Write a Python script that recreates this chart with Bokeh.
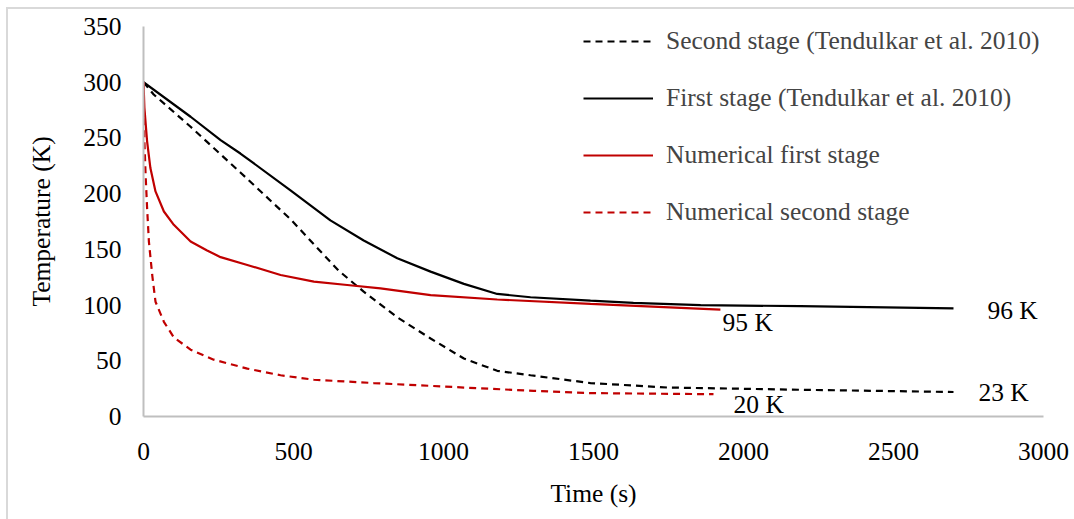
from bokeh.plotting import figure
from bokeh.models import FixedTicker, Legend, LegendItem, ColumnDataSource
from bokeh.core.properties import value
from bokeh.embed import file_html
from bokeh.resources import INLINE

# ---- data ----
t_second_ref = [0, 34, 157, 323, 490, 650, 734, 846, 957, 1068, 1179, 1290, 1490, 1747, 2190, 2700]
T_second_ref = [300, 289, 260, 219, 177, 131, 112, 89, 70, 52, 41, 37, 30, 26, 24, 22]

t_first_ref = [0, 157, 257, 323, 490, 623, 734, 846, 957, 1068, 1179, 1290, 1490, 1633, 1857, 2190, 2700]
T_first_ref = [300, 269, 248, 236, 203, 176, 158, 142, 130, 119, 110, 107, 104, 102, 100, 99, 97]

t_first_num = [0, 3, 12, 23, 40, 68, 101, 157, 212, 257, 346, 457, 568, 679, 790, 957, 1179, 1490, 1923]
T_first_num = [300, 277, 247, 223, 202, 184, 172, 157, 149, 143, 136, 127, 121, 118, 115, 109, 105, 101, 96]

t_second_num = [0, 3, 7, 12, 18, 29, 40, 68, 101, 157, 234, 346, 457, 568, 768, 1068, 1300, 1490, 1900]
T_second_num = [300, 247, 217, 187, 157, 127, 103, 85, 71, 60, 51, 43, 37, 33, 30, 26, 23, 21, 20]

labels = ["Second stage (Tendulkar et al. 2010)", "First stage (Tendulkar et al. 2010)",
          "Numerical first stage", "Numerical second stage"]

ann_text = ["95 K", "96 K", "23 K", "20 K"]
ann_x = [1930, 2813, 2783, 1967]
ann_y = [84, 95, 21.6, 10.8]

x_ticks = [0, 500, 1000, 1500, 2000, 2500, 3000]
y_ticks = [0, 50, 100, 150, 200, 250, 300, 350]

FONT = "Liberation Serif"
RED = "#c00000"
FS = "25.5px"

p = figure(width=1074, height=519, output_backend="svg", toolbar_location=None,
           x_range=(0, 3000), y_range=(0, 350),
           min_border_left=143, min_border_right=31, min_border_top=26, min_border_bottom=103)
p.outline_line_color = None
p.grid.visible = False
p.border_fill_alpha = 0
p.background_fill_alpha = 0
p.styles = {
    "background": "linear-gradient(#d9d9d9, #d9d9d9) 6px 7px / 2px 100% no-repeat, "
                  "linear-gradient(#d9d9d9, #d9d9d9) 6px 7px / 100% 2px no-repeat, #ffffff"
}

for ax in (p.xaxis[0], p.yaxis[0]):
    ax.axis_line_color = "#bfbfbf"
    ax.axis_line_width = 2
    ax.major_tick_line_color = None
    ax.minor_tick_line_color = None
    ax.major_tick_out = 0
    ax.major_tick_in = 0
    ax.major_label_text_font = FONT
    ax.major_label_text_font_size = FS
    ax.major_label_text_color = "#000000"
    ax.axis_label_text_font = FONT
    ax.axis_label_text_font_size = FS
    ax.axis_label_text_font_style = "normal"
    ax.axis_label_text_color = "#000000"

p.xaxis[0].ticker = FixedTicker(ticks=x_ticks)
p.yaxis[0].ticker = FixedTicker(ticks=y_ticks)
p.xaxis[0].axis_label = "Time (s)"
p.yaxis[0].axis_label = "Temperature (K)"
p.xaxis[0].major_label_standoff = 26
p.xaxis[0].axis_label_standoff = 16
p.yaxis[0].major_label_standoff = 22
p.yaxis[0].axis_label_standoff = 24

r1 = p.line(t_second_ref, T_second_ref, line_color="black", line_width=2.2, line_dash="7 5")
r2 = p.line(t_first_ref, T_first_ref, line_color="black", line_width=2.2)
r3 = p.line(t_first_num, T_first_num, line_color=RED, line_width=2.2)
r4 = p.line(t_second_num, T_second_num, line_color=RED, line_width=2.2, line_dash="7 5")

src = ColumnDataSource(dict(x=ann_x, y=ann_y, t=ann_text))
p.text(x="x", y="y", text="t", source=src, text_font=value(FONT), text_font_size=FS,
       text_baseline="middle", text_align="left", text_color="black")

legend = Legend(items=[LegendItem(label=labels[0], renderers=[r1]),
                       LegendItem(label=labels[1], renderers=[r2]),
                       LegendItem(label=labels[2], renderers=[r3]),
                       LegendItem(label=labels[3], renderers=[r4])],
                location=(440, 189), padding=0, margin=0, spacing=27,
                glyph_width=70, glyph_height=30, label_height=30, label_standoff=13,
                label_text_font=FONT, label_text_font_size=FS,
                background_fill_alpha=0, border_line_alpha=0)
p.add_layout(legend, "center")

open("out.html", "w").write(file_html(p, INLINE))
